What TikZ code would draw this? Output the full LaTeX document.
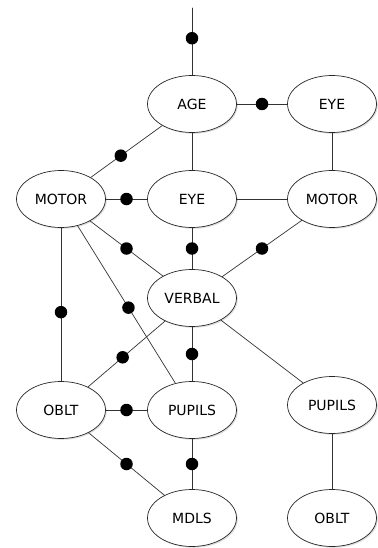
\documentclass[tikz,border=0pt]{standalone}
\usepackage{fontspec}
\setsansfont{DejaVu Sans}
\usetikzlibrary{shapes.geometric, shadows}

\begin{document}
\begin{tikzpicture}[
  x=1pt, y=-1pt,
  font=\sffamily,
  line cap=round, line join=round,
  var/.style={ellipse, draw=black!85, fill=white, line width=0.7pt,
    minimum width=89pt, minimum height=57pt, inner sep=0pt,
    font=\fontsize{14}{16}\sffamily,
    drop shadow={shadow xshift=1.3pt, shadow yshift=-1.3pt, opacity=0.25}},
  link/.style={draw=black!80, line width=0.7pt},
  dot/.style={circle, fill=black, inner sep=0pt, minimum size=12.5pt},
]
\useasboundingbox (0,0) rectangle (377,548);

% top row
\coordinate (top) at (192,8);
\node[var] (age)  at (192,104) {AGE};
\node[var] (eyeT) at (332,104) {EYE};

% second row
\node[var] (motorL) at (61,199)  {MOTOR};
\node[var] (eyeM)   at (192,199) {EYE};
\node[var] (motorR) at (332,199) {MOTOR};

% middle
\node[var] (verbal) at (192,298) {VERBAL};

% fourth row
\node[var] (obltL)   at (61,410)  {OBLT};
\node[var] (pupilsM) at (192,410) {PUPILS};
\node[var] (pupilsR) at (332,405) {PUPILS};

% bottom row
\node[var] (mdls)  at (192,518) {MDLS};
\node[var] (obltR) at (332,518) {OBLT};

% links with a dot
\draw[link] (top) -- node[dot, pos=0.45] {} (age);
\draw[link] (age) -- node[dot] {} (eyeT);
\draw[link] (age) -- node[dot, pos=0.58] {} (motorL);
\draw[link] (motorL) -- node[dot] {} (eyeM);
\draw[link] (motorL) -- node[dot] {} (verbal);
\draw[link] (eyeM) -- node[dot] {} (verbal);
\draw[link] (motorR) -- node[dot] {} (verbal);
\draw[link] (motorL) -- node[dot, pos=0.55] {} (obltL);
\draw[link] (motorL) -- node[dot, pos=0.52] {} (pupilsM);
\draw[link] (verbal) -- node[dot, pos=0.55] {} (obltL);
\draw[link] (verbal) -- node[dot] {} (pupilsM);
\draw[link] (obltL) -- node[dot] {} (pupilsM);
\draw[link] (obltL) -- node[dot] {} (mdls);
\draw[link] (pupilsM) -- node[dot] {} (mdls);

% plain links
\draw[link] (age) -- (eyeM);
\draw[link] (eyeT) -- (motorR);
\draw[link] (eyeM) -- (motorR);
\draw[link] (verbal) -- (pupilsR);
\draw[link] (pupilsR) -- (obltR);
\end{tikzpicture}
\end{document}
